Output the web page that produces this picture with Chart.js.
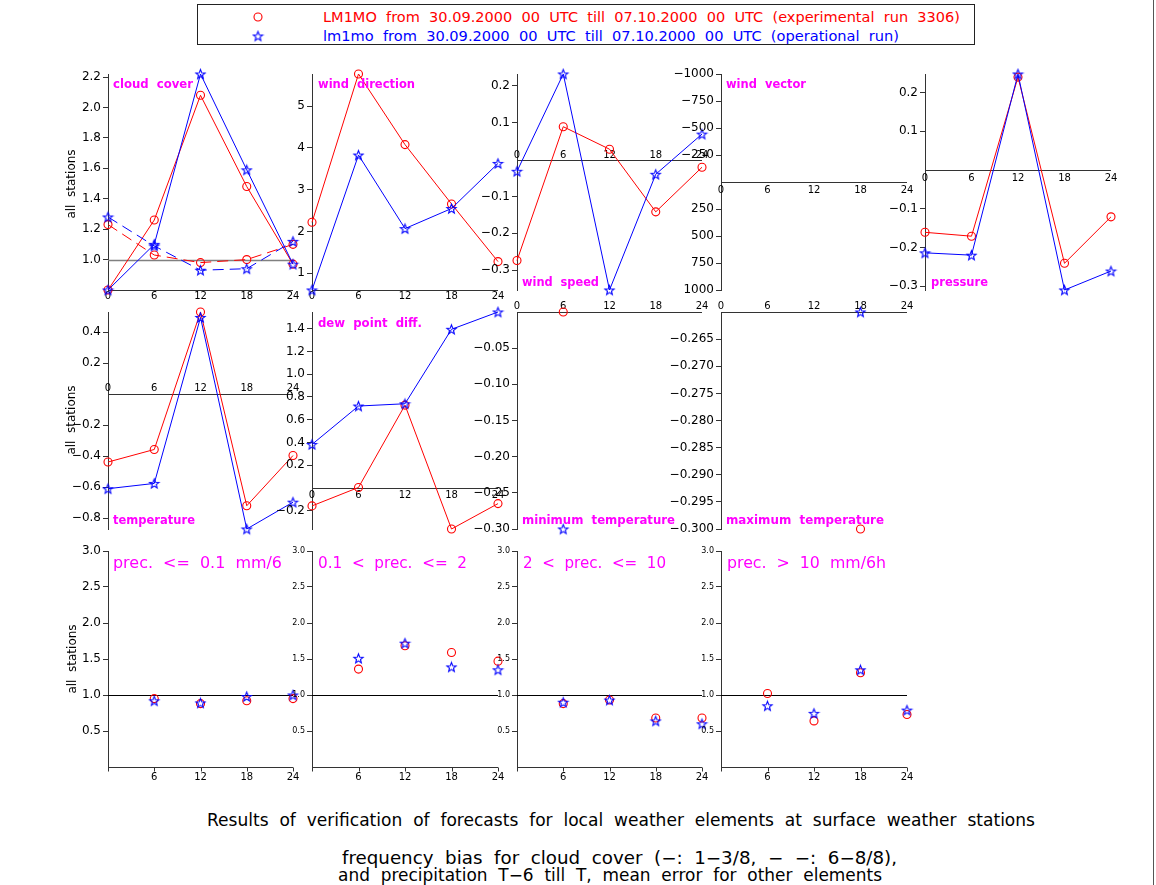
<!DOCTYPE html>
<html>
<head>
<meta charset="utf-8">
<title>LM1MO surface verification</title>
<script src="https://cdn.jsdelivr.net/npm/chart.js@4.4.1/dist/chart.umd.min.js"></script>
<style>
  html, body { margin:0; padding:0; background:#fff; }
  #page { position:relative; width:1156px; height:885px; overflow:hidden; font-family:"DejaVu Sans", sans-serif; }
  #page canvas { position:absolute; }
  .txt { position:absolute; white-space:pre; line-height:1; transform-origin:0 50%; }
  .ttl { color:#ff00ff; font-weight:bold; font-size:12px; }
  .ptl { color:#ff00ff; font-size:16px; }
  .cap { color:#000; font-size:17px; }
  .leg { font-size:14px; }
  .ylab { position:absolute; white-space:pre; font-size:12px; line-height:1; color:#000;
          transform:translate(-50%,-50%) rotate(-90deg); }
  #legendBox { position:absolute; left:197px; top:4px; width:776px; height:39px; border:1px solid #222; }
  #rightEdge { position:absolute; left:1153px; top:0; width:1px; height:885px; background:#555; }
</style>
</head>
<body>
<div id="page">
  <div id="legendBox"></div>
  <div id="rightEdge"></div>
</div>
<script>
// ---- lead times (h) ----
const hours = [0, 6, 12, 18, 24];
const precipHours = [6, 12, 18, 24];
const hourLabels = ['0', '6', '12', '18', '24'];
const precipHourLabels = ['6', '12', '18', '24'];

// ---- cloud cover frequency bias: 1-3/8 (solid) and 6-8/8 (dashed) ----
const cloudLowExp  = [0.80, 1.26, 2.08, 1.48, 0.97];
const cloudLowOpr  = [0.80, 1.10, 2.22, 1.59, 0.97];
const cloudHighExp = [1.23, 1.03, 0.98, 1.00, 1.10];
const cloudHighOpr = [1.28, 1.09, 0.93, 0.94, 1.12];

// ---- mean errors ----
const windDirExp   = [2.22, 5.77, 4.08, 2.66, 1.28];
const windDirOpr   = [0.60, 3.83, 2.07, 2.55, 3.63];
const windSpeedExp = [-0.274, 0.089, 0.028, -0.142, -0.021];
const windSpeedOpr = [-0.032, 0.232, -0.354, -0.040, 0.069];
const pressureExp  = [-0.161, -0.171, 0.240, -0.241, -0.121];
const pressureOpr  = [-0.214, -0.220, 0.248, -0.310, -0.261];
const tempExp      = [-0.438, -0.357, 0.530, -0.720, -0.396];
const tempOpr      = [-0.610, -0.576, 0.495, -0.870, -0.697];
const dewExp       = [-0.157, 0.005, 0.728, -0.360, -0.137];
const dewOpr       = [0.383, 0.720, 0.740, 1.394, 1.546];
const tminExp      = [null, 0.000, null, null, null];
const tminOpr      = [null, -0.300, null, null, null];
const tmaxExp      = [null, null, null, -0.300, null];
const tmaxOpr      = [null, null, null, -0.260, null];

// ---- precipitation frequency bias, T-6 till T ----
const prec1Exp = [0.95, 0.88, 0.92, 0.95];
const prec1Opr = [0.92, 0.89, 0.98, 1.00];
const prec2Exp = [1.36, 1.685, 1.59, 1.47];
const prec2Opr = [1.51, 1.72, 1.39, 1.35];
const prec3Exp = [0.88, 0.93, 0.68, 0.68];
const prec3Opr = [0.90, 0.93, 0.64, 0.60];
const prec4Exp = [1.02, 0.64, 1.31, 0.73];
const prec4Opr = [0.85, 0.745, 1.35, 0.79];

// ---- y tick values ----
const cloudTicks    = [1.0, 1.2, 1.4, 1.6, 1.8, 2.0, 2.2];
const windDirTicks  = [1, 2, 3, 4, 5];
const windSpdTicks  = [-0.3, -0.2, -0.1, 0.1, 0.2];
const windVecTicks  = [-1000, -750, -500, -250, 250, 500, 750, 1000];
const pressureTicks = [-0.3, -0.2, -0.1, 0.1, 0.2];
const tempTicks     = [-0.8, -0.6, -0.4, -0.2, 0.2, 0.4];
const dewTicks      = [-0.2, 0.2, 0.4, 0.6, 0.8, 1.0, 1.2, 1.4];
const tminTicks     = [-0.30, -0.25, -0.20, -0.15, -0.10, -0.05];
const tmaxTicks     = [-0.300, -0.295, -0.290, -0.285, -0.280, -0.275, -0.270, -0.265];
const precTicks     = [0.5, 1.0, 1.5, 2.0, 2.5, 3.0];

const RED = '#ff0000', BLUE = '#0000ff', AXIS = '#333333';
const FONT = '"DejaVu Sans", sans-serif';
const PAD_L = 60, PAD_T = 14, PAD_R = 14, PAD_B = 20;

// open five-pointed star used as the operational-run marker
function makeStar(color) {
  const s = 13, c = document.createElement('canvas');
  c.width = s; c.height = s;
  const g = c.getContext('2d');
  g.strokeStyle = color; g.lineWidth = 1.1; g.lineJoin = 'miter';
  g.beginPath();
  for (let k = 0; k < 10; k++) {
    const r = k % 2 ? 2.1 : 4.9;
    const a = -Math.PI / 2 + k * Math.PI / 5;
    const px = s / 2 + r * Math.cos(a), py = s / 2 + 0.5 + r * Math.sin(a);
    if (k) g.lineTo(px, py); else g.moveTo(px, py);
  }
  g.closePath(); g.stroke();
  return c;
}
const STAR = makeStar(BLUE);

function fmt(v, dec) {
  return (v < -1e-12 ? '\u2212' : '') + Math.abs(v).toFixed(dec);
}

// lead-time axis drawn along y = 0 (clamped into the plot), plus an optional reference line
const hourAxis = {
  id: 'hourAxis',
  beforeDatasetsDraw(chart, args, o) {
    const {ctx, chartArea: a, scales: {x, y}} = chart;
    const x0 = x.getPixelForValue(0), x1 = x.getPixelForValue(24);
    ctx.save();
    if (o.refValue !== undefined) {
      const ry = Math.round(y.getPixelForValue(o.refValue)) + 0.5;
      ctx.strokeStyle = o.refColor; ctx.lineWidth = o.refWidth;
      ctx.beginPath(); ctx.moveTo(x0, ry); ctx.lineTo(x1, ry); ctx.stroke();
    }
    let py = Math.min(Math.max(y.getPixelForValue(0), a.top), a.bottom);
    py = Math.round(py) + 0.5;
    ctx.strokeStyle = AXIS; ctx.lineWidth = 1;
    ctx.beginPath(); ctx.moveTo(x0, py); ctx.lineTo(x1, py); ctx.stroke();
    if (o.tickLen) {
      ctx.beginPath();
      hours.forEach(h => {
        const tx = Math.round(x.getPixelForValue(h)) + 0.5;
        ctx.moveTo(tx, py); ctx.lineTo(tx, py + o.tickLen);
      });
      ctx.stroke();
    }
    ctx.fillStyle = '#000';
    ctx.font = o.labelSize + 'px ' + FONT;
    ctx.textAlign = 'center'; ctx.textBaseline = 'middle';
    o.labels.forEach((lab, i) => ctx.fillText(lab, x.getPixelForValue(o.labelHours[i]), py + o.labelOffset));
    ctx.restore();
  }
};

function dataset(xs, ys, run, dashed, line) {
  const exp = run === 'exp';
  const color = exp ? RED : BLUE;
  return {
    data: xs.map((h, i) => ({x: h, y: ys[i]})),
    borderColor: color, backgroundColor: 'rgba(0,0,0,0)',
    borderWidth: 1, borderDash: dashed ? [11, 6] : [],
    showLine: line !== false, tension: 0, spanGaps: false,
    pointStyle: exp ? 'circle' : STAR, pointRadius: 4, pointBorderWidth: 1.1,
    pointBorderColor: color, pointBackgroundColor: 'rgba(0,0,0,0)',
    clip: false, order: exp ? 1 : 0
  };
}

function panel(p) {
  const [L, T, R, B] = p.box;
  const W = R - L + PAD_L + PAD_R, H = B - T + PAD_T + PAD_B;
  const cv = document.createElement('canvas');
  cv.width = W; cv.height = H;
  cv.style.left = (L - PAD_L) + 'px'; cv.style.top = (T - PAD_T) + 'px';
  cv.style.width = W + 'px'; cv.style.height = H + 'px';
  document.getElementById('page').appendChild(cv);
  const ax = Object.assign({labels: hourLabels, labelHours: hours, labelSize: 10, labelOffset: 6, tickLen: 0}, p.xAxis || {});
  return new Chart(cv, {
    type: 'line',
    data: {datasets: p.datasets},
    plugins: [hourAxis],
    options: {
      responsive: false, animation: false, devicePixelRatio: 1,
      layout: {padding: {left: 0, top: PAD_T, right: PAD_R, bottom: PAD_B}},
      plugins: {legend: {display: false}, tooltip: {enabled: false}, hourAxis: ax},
      events: [],
      scales: {
        x: {type: 'linear', min: 0, max: 24, display: false},
        y: {
          type: 'linear', min: p.yMin, max: p.yMax, reverse: !!p.reverse,
          afterFit: s => { s.width = PAD_L; },
          afterBuildTicks: s => { s.ticks = p.yTicks.map(v => ({value: v})); },
          ticks: {
            autoSkip: false, padding: 2, color: '#000',
            font: {family: FONT, size: p.tickSize || 12},
            callback: v => fmt(v, p.dec)
          },
          grid: {drawOnChartArea: false, drawTicks: true, tickLength: 5, color: AXIS},
          border: {display: true, color: AXIS, width: 1}
        }
      }
    }
  });
}

const COLS = [[108, 293], [312, 498], [517, 702], [721, 907], [925, 1111]];
const ROWS = [[74, 290], [312, 529], [551, 767]];
const box = (c, r) => [COLS[c][0], ROWS[r][0], COLS[c][1], ROWS[r][1]];

// row 1
panel({box: box(0, 0), yMin: 0.8, yMax: 2.22, yTicks: cloudTicks, dec: 1,
  xAxis: {refValue: 1.0, refColor: '#808080', refWidth: 1.5},
  datasets: [dataset(hours, cloudLowExp, 'exp'), dataset(hours, cloudLowOpr, 'opr'),
             dataset(hours, cloudHighExp, 'exp', true), dataset(hours, cloudHighOpr, 'opr', true)]});
panel({box: box(1, 0), yMin: 0.6, yMax: 5.77, yTicks: windDirTicks, dec: 0,
  datasets: [dataset(hours, windDirExp, 'exp'), dataset(hours, windDirOpr, 'opr')]});
panel({box: box(2, 0), yMin: -0.354, yMax: 0.232, yTicks: windSpdTicks, dec: 1,
  xAxis: {labelOffset: -5},
  datasets: [dataset(hours, windSpeedExp, 'exp'), dataset(hours, windSpeedOpr, 'opr')]});
panel({box: box(3, 0), yMin: -1000, yMax: 1000, reverse: true, yTicks: windVecTicks, dec: 0,
  xAxis: {labelOffset: 8}, datasets: []});
panel({box: box(4, 0), yMin: -0.31, yMax: 0.248, yTicks: pressureTicks, dec: 1,
  xAxis: {labelOffset: 8},
  datasets: [dataset(hours, pressureExp, 'exp'), dataset(hours, pressureOpr, 'opr')]});

// row 2
panel({box: box(0, 1), yMin: -0.87, yMax: 0.53, yTicks: tempTicks, dec: 1,
  xAxis: {labelOffset: -6},
  datasets: [dataset(hours, tempExp, 'exp'), dataset(hours, tempOpr, 'opr')]});
panel({box: box(1, 1), yMin: -0.36, yMax: 1.546, yTicks: dewTicks, dec: 1,
  xAxis: {labelOffset: 7},
  datasets: [dataset(hours, dewExp, 'exp'), dataset(hours, dewOpr, 'opr')]});
panel({box: box(2, 1), yMin: -0.30, yMax: 0.0, yTicks: tminTicks, dec: 2,
  xAxis: {labelOffset: -6},
  datasets: [dataset(hours, tminExp, 'exp', false, false), dataset(hours, tminOpr, 'opr', false, false)]});
panel({box: box(3, 1), yMin: -0.30, yMax: -0.26, yTicks: tmaxTicks, dec: 3,
  xAxis: {labelOffset: -6},
  datasets: [dataset(hours, tmaxExp, 'exp', false, false), dataset(hours, tmaxOpr, 'opr', false, false)]});

// row 3: precipitation classes
const precAxis = {labels: precipHourLabels, labelHours: precipHours, labelOffset: 10, tickLen: 4,
                  refValue: 1.0, refColor: '#000', refWidth: 1};
[[prec1Exp, prec1Opr, 12], [prec2Exp, prec2Opr, 8], [prec3Exp, prec3Opr, 8], [prec4Exp, prec4Opr, 8]]
  .forEach(([e, o, ts], c) => panel({box: box(c, 2), yMin: 0, yMax: 3.0, yTicks: precTicks, dec: 1, tickSize: ts,
    xAxis: precAxis,
    datasets: [dataset(precipHours, e, 'exp', false, false), dataset(precipHours, o, 'opr', false, false)]}));

// ---- legend markers ----
(function () {
  const cv = document.createElement('canvas');
  cv.width = 30; cv.height = 40;
  cv.style.left = '243px'; cv.style.top = '6px';
  document.getElementById('page').appendChild(cv);
  const g = cv.getContext('2d');
  g.strokeStyle = RED; g.lineWidth = 1.1;
  g.beginPath(); g.arc(15, 11, 4, 0, Math.PI * 2); g.stroke();
  g.drawImage(STAR, 15 - STAR.width / 2, 30 - STAR.height / 2);
})();

// ---- text ----
const texts = [
  ['LM1MO  from  30.09.2000  00  UTC  till  07.10.2000  00  UTC  (experimental  run  3306)', 'leg', 323, 17, 637, RED],
  ['lm1mo  from  30.09.2000  00  UTC  till  07.10.2000  00  UTC  (operational  run)', 'leg', 323, 36, 576, BLUE],
  ['cloud  cover', 'ttl', 113, 84, 80],
  ['wind  direction', 'ttl', 318, 84, 97],
  ['wind  speed', 'ttl', 522, 282, 77],
  ['wind  vector', 'ttl', 726, 84, 80],
  ['pressure', 'ttl', 931, 282, 57],
  ['temperature', 'ttl', 113, 520, 82],
  ['dew  point  diff.', 'ttl', 318, 323, 104],
  ['minimum  temperature', 'ttl', 522, 520, 153],
  ['maximum  temperature', 'ttl', 726, 520, 158],
  ['prec.  <=  0.1  mm/6', 'ptl', 113, 563, 169],
  ['0.1  <  prec.  <=  2', 'ptl', 318, 563, 149],
  ['2  <  prec.  <=  10', 'ptl', 523, 563, 143],
  ['prec.  >  10  mm/6h', 'ptl', 727, 563, 159],
  ['Results  of  verification  of  forecasts  for  local  weather  elements  at  surface  weather  stations', 'cap', 207, 820, 828],
  ['frequency  bias  for  cloud  cover  (\u2212:  1\u22123/8,  \u2212  \u2212:  6\u22128/8),', 'cap', 342, 858, 555],
  ['and  precipitation  T\u22126  till  T,  mean  error  for  other  elements', 'cap', 338, 875, 544]
];
const page = document.getElementById('page');
texts.forEach(([t, cls, x, cy, w, color]) => {
  const el = document.createElement('div');
  el.className = 'txt ' + cls;
  el.textContent = t;
  if (color) el.style.color = color;
  page.appendChild(el);
  const fs = parseFloat(getComputedStyle(el).fontSize);
  el.style.left = x + 'px';
  el.style.top = (cy - fs / 2) + 'px';
  const cw = el.getBoundingClientRect().width;
  el.style.transform = 'scaleX(' + (w / cw).toFixed(4) + ')';
});
[[71, 184], [71, 420], [72, 659]].forEach(([x, y]) => {
  const el = document.createElement('div');
  el.className = 'ylab';
  el.textContent = 'all  stations';
  el.style.left = x + 'px'; el.style.top = y + 'px';
  page.appendChild(el);
});
</script>
</body>
</html>
